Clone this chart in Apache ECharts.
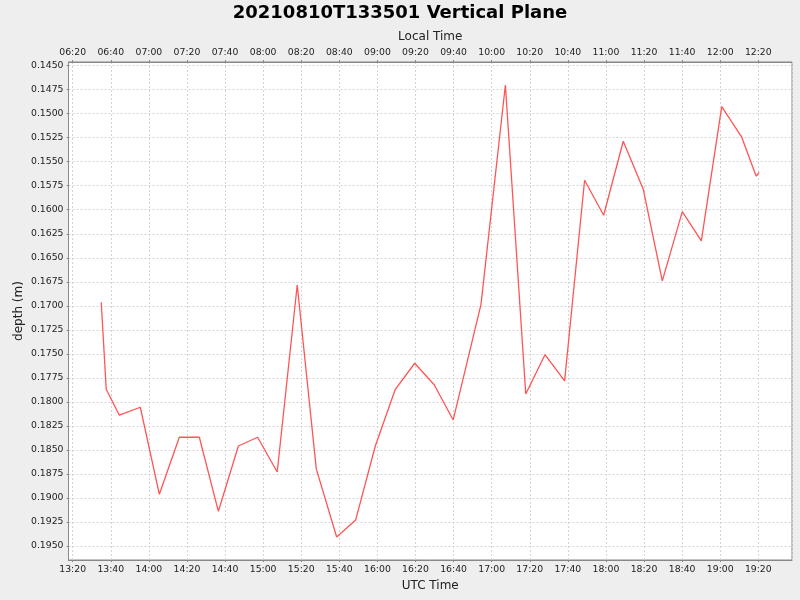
<!DOCTYPE html>
<html>
<head>
<meta charset="utf-8">
<script src="https://cdn.jsdelivr.net/npm/echarts@6/dist/echarts.min.js"></script>
<style>
html,body{margin:0;padding:0;background:#eeeeee;}
#chart{width:800px;height:600px;}
</style>
</head>
<body>
<div id="chart"></div>
<script>
// ---- data ----
const chartTitle = "20210810T133501 Vertical Plane";
const utcTimes = [
  "13:35:00","13:37:36","13:44:30","13:55:30","14:05:30","14:16:00","14:26:30","14:36:30",
  "14:47:00","14:57:06","15:07:24","15:17:54","15:27:54","15:38:36","15:48:36","15:58:54",
  "16:09:24","16:19:36","16:29:54","16:39:48","16:54:24","17:07:12","17:17:54","17:28:00",
  "17:38:18","17:48:48","17:58:48","18:09:06","18:19:36","18:29:36","18:40:06","18:50:06",
  "19:00:48","19:11:18","19:18:54","19:20:30"
];
const depths = [
  0.16963,0.17869,0.18139,0.18056,0.18962,0.18368,0.18368,0.19139,
  0.18459,0.18368,0.18730,0.16783,0.18698,0.19406,0.19229,0.18459,
  0.17869,0.17598,0.17824,0.18188,0.16985,0.14701,0.17918,0.17509,
  0.17782,0.15693,0.16057,0.15287,0.15787,0.16741,0.16020,0.16325,
  0.14927,0.15245,0.15651,0.15610
];
const xRange = ["13:17:48", "19:37:42"];   // UTC axis extent
const xTickStepMinutes = 20;
const localOffsetMinutes = -7 * 60;         // Local = UTC - 7h
const yRange = [0.14462, 0.19646];
const yTickStep = 0.0025;

// ---- helpers ----
function toMin(s){ const p = s.split(":").map(Number); return p[0]*60 + p[1] + (p[2]||0)/60; }
function fmtHM(m){
  m = Math.round(m); m = ((m % 1440) + 1440) % 1440;
  const h = Math.floor(m/60), mm = m % 60;
  return String(h).padStart(2,"0") + ":" + String(mm).padStart(2,"0");
}
const seriesData = utcTimes.map((t,i)=>[toMin(t), depths[i]]);

const FONT = "DejaVu Sans";
const labelStyle = {fontFamily: FONT, fontSize: 9.3, color: "#222"};
const nameStyle = {fontFamily: FONT, fontSize: 12, color: "#222"};
const axisLineStyle = {lineStyle:{color:"#888888", width:1}};
const gridLine = {show:true, lineStyle:{color:"#d4d4d4", type:[2,2], width:1}};

const xMin = toMin(xRange[0]), xMax = toMin(xRange[1]);

const option = {
  backgroundColor: "#eeeeee",
  animation: false,
  title: {
    text: chartTitle, left: "center", top: -1,
    textStyle: {fontFamily: FONT, fontSize: 18, fontWeight: "bold", color: "#000"}
  },
  grid: {left: 68.5, right: 8, top: 62, bottom: 40, show: true,
         backgroundColor: "#ffffff", borderColor: "#888888", borderWidth: 1},
  xAxis: [
    {
      type: "value", position: "bottom", min: xMin, max: xMax,
      minInterval: xTickStepMinutes, maxInterval: xTickStepMinutes,
      name: "UTC Time", nameLocation: "middle", nameGap: 20, nameTextStyle: nameStyle,
      nameMoveOverlap: false,
      axisLine: axisLineStyle,
      axisTick: {show:true, length:2, inside:false, lineStyle:{color:"#888888"}},
      axisLabel: Object.assign({margin:5, showMinLabel:false, showMaxLabel:false,
        formatter: v => fmtHM(v)}, labelStyle),
      splitLine: gridLine
    },
    {
      type: "value", position: "top", min: xMin, max: xMax,
      minInterval: xTickStepMinutes, maxInterval: xTickStepMinutes,
      name: "Local Time", nameLocation: "middle", nameGap: 19, nameTextStyle: nameStyle,
      nameMoveOverlap: false,
      axisLine: axisLineStyle,
      axisTick: {show:true, length:2, inside:false, lineStyle:{color:"#888888"}},
      axisLabel: Object.assign({margin:5, showMinLabel:false, showMaxLabel:false,
        formatter: v => fmtHM(v + localOffsetMinutes)}, labelStyle),
      splitLine: {show:false}
    }
  ],
  yAxis: {
    type: "value", inverse: true, min: yRange[0], max: yRange[1],
    minInterval: yTickStep, maxInterval: yTickStep,
    name: "depth (m)", nameLocation: "middle", nameGap: 44, nameTextStyle: nameStyle,
    nameMoveOverlap: false,
    axisLine: axisLineStyle,
    axisTick: {show:true, length:2, inside:false, lineStyle:{color:"#888888"}},
    axisLabel: Object.assign({margin:5, showMinLabel:false, showMaxLabel:false,
      formatter: v => v.toFixed(4)}, labelStyle),
    splitLine: gridLine
  },
  series: [{
    type: "line", xAxisIndex: 0, data: seriesData,
    showSymbol: false, symbol: "none",
    lineStyle: {color: "#ff5555", width: 1.3},
    itemStyle: {color: "#ff5555"}
  }]
};
const chart = echarts.init(document.getElementById("chart"), null, {renderer: "canvas"});
chart.setOption(option);
</script>
</body>
</html>
